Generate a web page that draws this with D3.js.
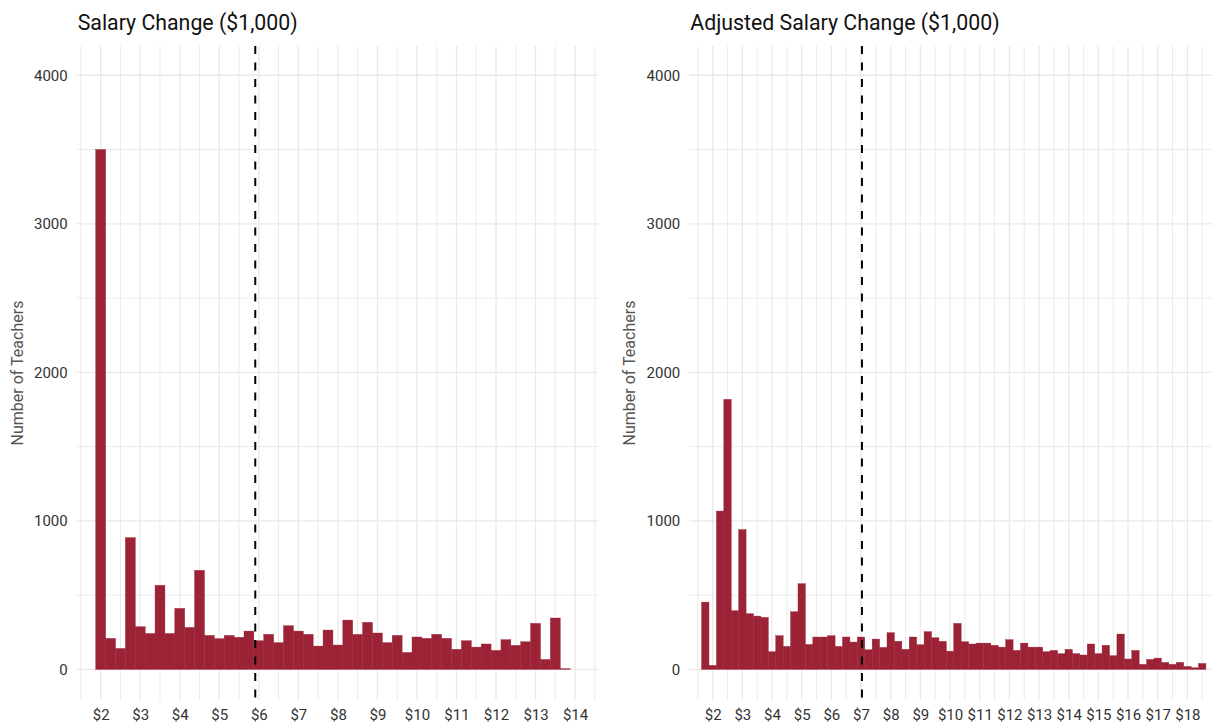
<!DOCTYPE html>
<html>
<head>
<meta charset="utf-8">
<script src="https://cdn.jsdelivr.net/npm/d3@7"></script>
<style>
  body { margin: 0; background: #fff; }
  svg text { font-family: Roboto, sans-serif; }
</style>
</head>
<body>
<script>
// Histogram data (count of teachers per $250 bin).
const binWidth = 0.25;

const salaryStart = 1.875;
const salaryCounts = [3500, 209, 141, 887, 287, 242, 566, 242, 411, 283,
  667, 229, 207, 229, 216, 258, 193, 236, 180, 294,
  258, 236, 157, 265, 164, 332, 236, 317, 245, 180,
  229, 114, 218, 209, 236, 209, 135, 193, 150, 171,
  128, 200, 162, 186, 310, 67, 346, 5];
const salaryMean = 5.91;

const adjStart = 1.625;
const adjCounts = [453, 27, 1066, 1818, 395, 941, 375, 359, 350, 119,
  227, 155, 388, 577, 168, 218, 218, 227, 155, 218,
  184, 218, 132, 204, 148, 247, 189, 135, 218, 166,
  254, 213, 189, 123, 310, 186, 171, 177, 177, 162,
  150, 200, 128, 177, 150, 150, 119, 128, 106, 135,
  106, 97, 171, 106, 162, 92, 238, 70, 128, 34,
  67, 76, 47, 34, 47, 20, 11, 40];
const adjMean = 7.03;

const yTicks = [0, 1000, 2000, 3000, 4000];
const yMinor = [500, 1500, 2500, 3500];
const salaryTicks = d3.range(2, 15);
const adjTicks = d3.range(2, 19);

const width = 1217;
const height = 727;
const barColor = '#9c2236';
const gridColor = '#e9e9e9';

const svg = d3.select('body')
  .append('svg')
  .attr('width', width)
  .attr('height', height);

// Shared y scale.
const yScale = d3.scaleLinear()
  .domain([-206, 4197])
  .range([700, 46]);

function panel(opts)
{
  const xScale = d3.scaleLinear()
    .domain(opts.domain)
    .range(opts.range);
  const g = svg.append('g');
  const left = opts.range[0];
  const right = opts.range[1];

  // Grid.
  const minorX = opts.ticks.map((d) => d - 0.5).concat([opts.ticks[opts.ticks.length - 1] + 0.5]);
  g.selectAll('line.xminor')
    .data(minorX)
    .enter()
    .append('line')
    .attr('x1', (d) => xScale(d))
    .attr('x2', (d) => xScale(d))
    .attr('y1', 46)
    .attr('y2', 700)
    .attr('stroke', gridColor)
    .attr('stroke-width', 0.9);
  g.selectAll('line.yminor')
    .data(yMinor)
    .enter()
    .append('line')
    .attr('x1', left)
    .attr('x2', right)
    .attr('y1', (d) => yScale(d))
    .attr('y2', (d) => yScale(d))
    .attr('stroke', gridColor)
    .attr('stroke-width', 0.9);
  g.selectAll('line.xmajor')
    .data(opts.ticks)
    .enter()
    .append('line')
    .attr('x1', (d) => xScale(d))
    .attr('x2', (d) => xScale(d))
    .attr('y1', 46)
    .attr('y2', 700)
    .attr('stroke', gridColor)
    .attr('stroke-width', 1.3);
  g.selectAll('line.ymajor')
    .data(yTicks)
    .enter()
    .append('line')
    .attr('x1', left)
    .attr('x2', right)
    .attr('y1', (d) => yScale(d))
    .attr('y2', (d) => yScale(d))
    .attr('stroke', gridColor)
    .attr('stroke-width', 1.3);

  // Bars.
  g.selectAll('rect')
    .data(opts.counts)
    .enter()
    .append('rect')
    .attr('x', (d, i) => xScale(opts.start + i * binWidth))
    .attr('width', (d, i) => xScale(opts.start + (i + 1) * binWidth) - xScale(opts.start + i * binWidth))
    .attr('y', (d) => yScale(d))
    .attr('height', (d) => yScale(0) - yScale(d))
    .attr('fill', barColor)
    .attr('stroke', barColor)
    .attr('stroke-width', 0.4);

  // Mean line.
  g.append('line')
    .attr('x1', xScale(opts.mean))
    .attr('x2', xScale(opts.mean))
    .attr('y1', 46)
    .attr('y2', 700)
    .attr('stroke', '#000')
    .attr('stroke-width', 2)
    .attr('stroke-dasharray', '8,8.5');

  // Axes.
  const yAxis = d3.axisLeft(yScale)
    .tickValues(yTicks)
    .tickSize(0)
    .tickPadding(9)
    .tickFormat(d3.format('d'));
  const ya = g.append('g')
    .attr('transform', 'translate(' + left + ',0)')
    .call(yAxis);
  ya.select('.domain').remove();
  ya.selectAll('text')
    .attr('fill', '#333')
    .style('font-size', '15px');

  const xAxis = d3.axisBottom(xScale)
    .tickValues(opts.ticks)
    .tickSize(0)
    .tickPadding(0)
    .tickFormat((d) => '$' + d);
  const xa = g.append('g')
    .attr('transform', 'translate(0,709)')
    .call(xAxis);
  xa.select('.domain').remove();
  xa.selectAll('text')
    .attr('fill', '#333')
    .attr('dy', '0.71em')
    .style('font-size', '15px');

  // Titles.
  g.append('text')
    .attr('x', left + 1)
    .attr('y', 30)
    .attr('fill', '#111')
    .style('font-size', '21.3px')
    .text(opts.title);

  g.append('text')
    .attr('transform', 'translate(' + (left - 54) + ',373) rotate(-90)')
    .attr('text-anchor', 'middle')
    .attr('fill', '#555')
    .style('font-size', '16px')
    .text('Number of Teachers');
}

panel({
  title: 'Salary Change ($1,000)',
  domain: [1.393, 14.58],
  range: [76.7, 598],
  ticks: salaryTicks,
  start: salaryStart,
  counts: salaryCounts,
  mean: salaryMean
});

panel({
  title: 'Adjusted Salary Change ($1,000)',
  domain: [1.211, 18.82],
  range: [689.3, 1211.7],
  ticks: adjTicks,
  start: adjStart,
  counts: adjCounts,
  mean: adjMean
});
</script>
</body>
</html>
